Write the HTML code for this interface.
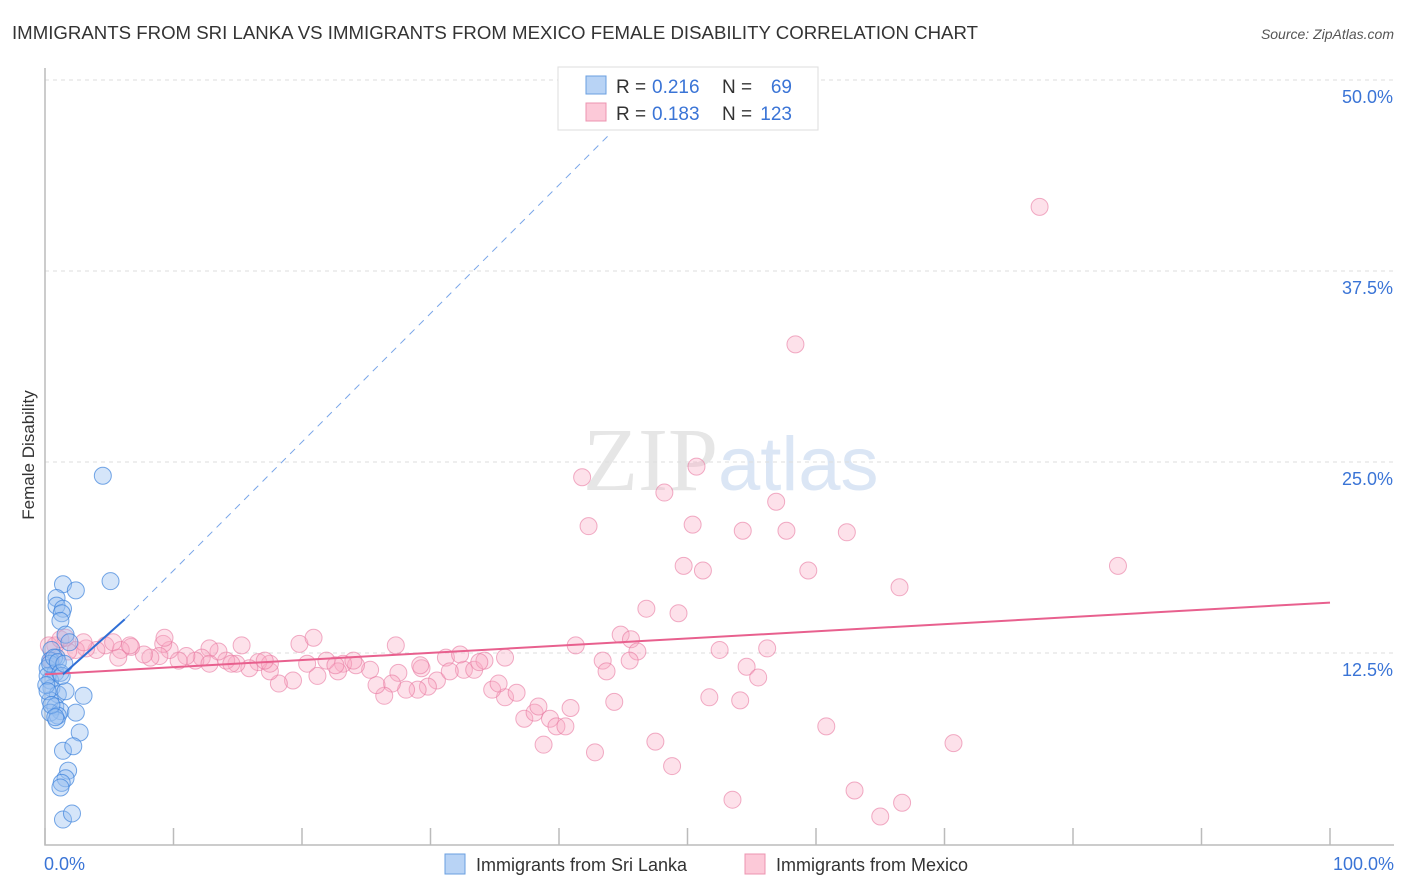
<!DOCTYPE html>
<html><head><meta charset="utf-8"><style>
body{margin:0;background:#fff;font-family:"Liberation Sans",sans-serif;}
svg{display:block}
</style></head><body>
<svg width="1406" height="892" font-family="Liberation Sans, sans-serif">
<text x="12" y="39" font-size="18" fill="#333" textLength="966" lengthAdjust="spacingAndGlyphs">IMMIGRANTS FROM SRI LANKA VS IMMIGRANTS FROM MEXICO FEMALE DISABILITY CORRELATION CHART</text>
<text x="1394" y="39" font-size="14" fill="#555" font-style="italic" text-anchor="end">Source: ZipAtlas.com</text>
<text x="718" y="490" font-size="90" fill="#e6e6e6" text-anchor="end" font-family="Liberation Serif, serif">ZIP</text>
<text x="718" y="490" font-size="76" fill="#dbe6f5">atlas</text>
<g id="grid"></g>
<g id="axes"></g>
<text transform="translate(34,455) rotate(-90)" font-size="17" fill="#333" text-anchor="middle">Female Disability</text>
<g id="pts"></g>
<g id="trends"></g>
<g>
<rect x="558" y="67" width="260" height="63" fill="#fff" stroke="#ddd"/>
<rect x="586" y="76" width="20" height="18" fill="#b8d3f5" stroke="#6a9fe0"/>
<rect x="586" y="103" width="20" height="18" fill="#fcc9d8" stroke="#ec94b0"/>
<text x="616" y="93" font-size="19" fill="#333">R =</text><text x="652" y="93" font-size="19" fill="#3a74d6">0.216</text>
<text x="722" y="93" font-size="19" fill="#333">N =</text><text x="792" y="93" font-size="19" fill="#3a74d6" text-anchor="end">69</text>
<text x="616" y="120" font-size="19" fill="#333">R =</text><text x="652" y="120" font-size="19" fill="#3a74d6">0.183</text>
<text x="722" y="120" font-size="19" fill="#333">N =</text><text x="792" y="120" font-size="19" fill="#3a74d6" text-anchor="end">123</text>
</g>
<g>
<rect x="445" y="854" width="20" height="20" fill="#b8d3f5" stroke="#6a9fe0"/>
<text x="476" y="871" font-size="18" fill="#333">Immigrants from Sri Lanka</text>
<rect x="745" y="854" width="20" height="20" fill="#fcc9d8" stroke="#ec94b0"/>
<text x="776" y="871" font-size="18" fill="#333">Immigrants from Mexico</text>
</g>
</svg>
<script>
const yTicks=[12.5,25,37.5,50];
const yTickLabels=["12.5%","25.0%","37.5%","50.0%"];
const xTickVals=[0,10,20,30,40,50,60,70,80,90,100];
const blueX=[4.5,5.1,1.4,2.4,0.9,0.9,1.4,1.3,1.2,1.6,1.9,0.5,0.9,0.4,0.2,0.8,0.4,0.5,1.0,3.0,0.4,0.8,1.2,2.4,0.4,1.0,0.9,2.7,1.4,2.2,1.8,1.6,1.3,1.2,1.4,2.1,0.2,0.4,0.7,1.0,0.1,0.2,0.5,0.8,1.6,1.2,1.3,1.5];
const blueY=[24.1,17.2,17.0,16.6,16.1,15.6,15.4,15.1,14.6,13.7,13.2,12.7,12.2,12.0,11.5,11.2,10.7,10.2,9.8,9.7,9.4,9.0,8.7,8.6,8.6,8.4,8.1,7.3,6.1,6.4,4.8,4.3,4.0,3.7,1.6,2.0,11.0,11.8,12.2,11.9,10.4,10.0,9.1,8.3,10.0,11.2,11.0,11.8];
const pinkPx=[[1040,207],[796,345],[697,466],[582,478],[665,492],[776,502],[589,526],[692,524],[743,531],[786,530],[847,532],[684,566],[703,571],[808,570],[1118,566],[900,588],[647,608],[679,613],[621,635],[631,640],[638,652],[576,646],[719,650],[767,649],[603,660],[630,661],[606,671],[746,667],[758,678],[709,698],[740,701],[614,702],[826,726],[954,743],[655,742],[595,753],[672,766],[732,800],[855,790],[902,802],[880,816],[544,744],[524,719],[534,712],[550,719],[556,726],[566,726],[570,708],[538,706],[505,697],[517,692],[492,690],[498,684],[464,670],[474,670],[484,660],[505,658],[446,658],[460,655],[422,668],[437,680],[428,686],[418,690],[406,690],[398,673],[392,684],[384,696],[376,685],[370,670],[356,665],[343,664],[338,672],[326,661],[318,676],[307,664],[293,680],[279,684],[270,672],[258,662],[249,668],[237,664],[226,660],[219,652],[210,648],[202,658],[195,660],[186,656],[178,660],[170,650],[163,644],[160,656],[150,658],[144,654],[131,647],[121,650],[118,658],[106,646],[97,650],[86,648],[76,650],[68,652],[55,646],[49,645],[60,640],[66,637],[52,660],[84,643],[113,643],[130,645],[164,637],[209,663],[242,646],[299,644],[313,637],[270,664],[396,645],[450,672],[479,662],[265,660],[231,664],[336,665],[353,660],[420,665]];
const pinkX=pinkPx.map(p=>+((p[0]-45)/12.85).toFixed(1));
const pinkY=pinkPx.map(p=>+((844-p[1])/191*12.5).toFixed(1));
const blueTrend=[[1.4,11.1],[6.2,14.7]];
const blueDash=[[6.2,14.7],[44,46.5]];
const pinkTrend=[[0,11.1],[100,15.8]];
const X=v=>45+v*12.85, Y=v=>844-v*191/12.5;
const NS="http://www.w3.org/2000/svg";
function mk(t,a,p){const e=document.createElementNS(NS,t);for(const k in a)e.setAttribute(k,a[k]);p.appendChild(e);return e;}
const grid=document.getElementById('grid'),axes=document.getElementById('axes');
yTicks.forEach((v,i)=>{
 const l=mk('line',{x1:45,x2:1394,y1:Y(v),y2:Y(v),stroke:'#ddd','stroke-dasharray':'4,4'},grid);
 
 
 const t=mk('text',{x:1393,y:Y(v)+23,'font-size':18,fill:'#3a74d6','text-anchor':'end'},axes);
 t.textContent=yTickLabels[i];
 
 
});
const ax=mk('path',{d:'M45,68 V845 H1394',fill:'none',stroke:'#bbb','stroke-width':1.5},axes);


xTickVals.forEach(v=>{
 const t=mk('line',{x1:X(v),x2:X(v),y1:828,y2:845,stroke:'#bbb','stroke-width':1.5},axes);
 
 
});
[[0,"0.0%",'start',44],[100,"100.0%",'end',1394]].forEach(d=>{
 const t=mk('text',{x:d[3],y:870,'font-size':18,fill:'#3a74d6','text-anchor':d[2]},axes);
 t.textContent=d[1];
 
 
});
const pts=document.getElementById('pts');
pinkX.forEach((x,i)=>{
 const c=mk('circle',{cx:X(x),cy:Y(pinkY[i]),r:8.5,fill:'rgba(248,170,195,0.35)',stroke:'rgba(232,120,160,0.6)','stroke-width':1},pts);
 
 
});
blueX.forEach((x,i)=>{
 const c=mk('circle',{cx:X(x),cy:Y(blueY[i]),r:8.5,fill:'rgba(150,190,240,0.4)',stroke:'rgba(60,130,220,0.7)','stroke-width':1},pts);
 
 
});
const tr=document.getElementById('trends');
const l1=mk('line',{x1:X(pinkTrend[0][0]),y1:Y(pinkTrend[0][1]),x2:X(pinkTrend[1][0]),y2:Y(pinkTrend[1][1]),stroke:'#e8608e','stroke-width':2},tr);


const l2=mk('line',{x1:X(blueDash[0][0]),y1:Y(blueDash[0][1]),x2:X(blueDash[1][0]),y2:Y(blueDash[1][1]),stroke:'#7aa6e8','stroke-width':1,'stroke-dasharray':'7,6'},tr);


const l3=mk('line',{x1:X(blueTrend[0][0]),y1:Y(blueTrend[0][1]),x2:X(blueTrend[1][0]),y2:Y(blueTrend[1][1]),stroke:'#2f6fd6','stroke-width':2},tr);


</script>
</body></html>
